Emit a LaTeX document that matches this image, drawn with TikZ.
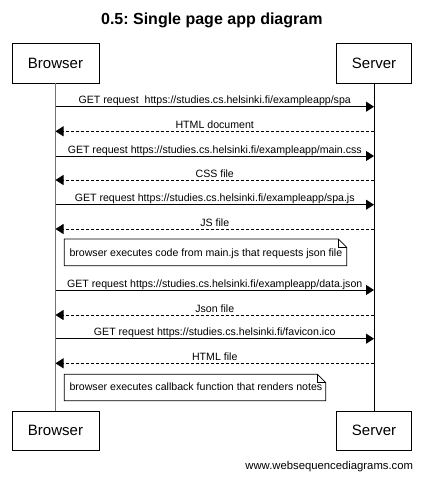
\documentclass[tikz,border=0pt]{standalone}
\usepackage{fontspec}
\setmainfont{Liberation Sans}
\usetikzlibrary{arrows.meta}
\frenchspacing
\begin{document}
\begin{tikzpicture}[x=1pt,y=-1pt,
 actor/.style={draw, line width=0.8pt, minimum height=40pt, inner sep=0pt, font=\fontsize{15}{18}\selectfont},
 msg/.style={-{Triangle[length=8pt,width=10pt]}, line width=0.8pt},
 reply/.style={msg, dash pattern=on 3pt off 2pt},
 lbl/.style={anchor=base, inner sep=0pt, yshift=2.8pt, font=\fontsize{10.6}{12}\selectfont},
 notetext/.style={anchor=base west, inner sep=0pt, font=\fontsize{10.6}{12}\selectfont},
 notebox/.style={draw, fill=white, line width=0.8pt},
 lifeline/.style={line width=0.8pt}
]
\useasboundingbox (0,0) rectangle (423,477);

\node[anchor=base, inner sep=0pt, font=\bfseries\fontsize{16}{19}\selectfont] (title) at (211.8,24) {0.5: Single page app diagram};

\node[actor, minimum width=87pt] (bt) at (55.5,63) {Browser};
\node[actor, minimum width=75pt] (st) at (374,63) {Server};
\node[actor, minimum width=87pt, minimum height=39pt] (bb) at (55.5,430.5) {Browser};
\node[actor, minimum width=75pt, minimum height=39pt] (sb) at (374,430.5) {Server};

\draw[lifeline, black!55, line width=1.5pt] (bt.south) -- (bb.north);
\draw[lifeline] (st.south) -- (sb.north);

% message end points
\coordinate (b1) at (55.5,106.7);  \coordinate (s1) at (374,106.7);
\coordinate (b2) at (55.5,131.3);  \coordinate (s2) at (374,131.3);
\coordinate (b3) at (55.5,156);    \coordinate (s3) at (374,156);
\coordinate (b4) at (55.5,180);    \coordinate (s4) at (374,180);
\coordinate (b5) at (55.5,204.7);  \coordinate (s5) at (374,204.7);
\coordinate (b6) at (55.5,229);    \coordinate (s6) at (374,229);
\coordinate (b7) at (55.5,290);    \coordinate (s7) at (374,290);
\coordinate (b8) at (55.5,315);    \coordinate (s8) at (374,315);
\coordinate (b9) at (55.5,338.7);  \coordinate (s9) at (374,338.7);
\coordinate (b10) at (55.5,363.3); \coordinate (s10) at (374,363.3);

\draw[msg] (b1) -- node[lbl] (m1) {GET request~ https://studies.cs.helsinki.fi/exampleapp/spa} (s1);
\draw[reply] (s2) -- node[lbl] (m2) {HTML document} (b2);
\draw[msg] (b3) -- node[lbl] (m3) {GET request https://studies.cs.helsinki.fi/exampleapp/main.css} (s3);
\draw[reply] (s4) -- node[lbl] (m4) {CSS file} (b4);
\draw[msg] (b5) -- node[lbl] (m5) {GET request https://studies.cs.helsinki.fi/exampleapp/spa.js} (s5);
\draw[reply] (s6) -- node[lbl] (m6) {JS file} (b6);

\draw[notebox] (64.3,239) -- (338.4,239) -- (346.7,247.3) -- (346.7,265.7) -- (64.3,265.7) -- cycle;
\draw[line width=0.8pt] (338.4,239) -- (338.4,247.3) -- (346.7,247.3);
\node[notetext] (n1) at (69.3,256.7) {browser executes code from main.js that requests json file};

\draw[msg] (b7) -- node[lbl] (m7) {GET request https://studies.cs.helsinki.fi/exampleapp/data.json} (s7);
\draw[reply] (s8) -- node[lbl] (m8) {Json file} (b8);
\draw[msg] (b9) -- node[lbl] (m9) {GET request https://studies.cs.helsinki.fi/favicon.ico} (s9);
\draw[reply] (s10) -- node[lbl] (m10) {HTML file} (b10);

\draw[notebox] (64.3,374.3) -- (317.4,374.3) -- (325.7,382.6) -- (325.7,400.7) -- (64.3,400.7) -- cycle;
\draw[line width=0.8pt] (317.4,374.3) -- (317.4,382.6) -- (325.7,382.6);
\node[notetext] (n2) at (69.3,390.7) {browser executes callback function that renders notes};

\node[anchor=base east, inner sep=0pt, font=\fontsize{11.3}{13}\selectfont] (footer) at (413.3,469) {www.websequencediagrams.com};
\end{tikzpicture}
\end{document}
